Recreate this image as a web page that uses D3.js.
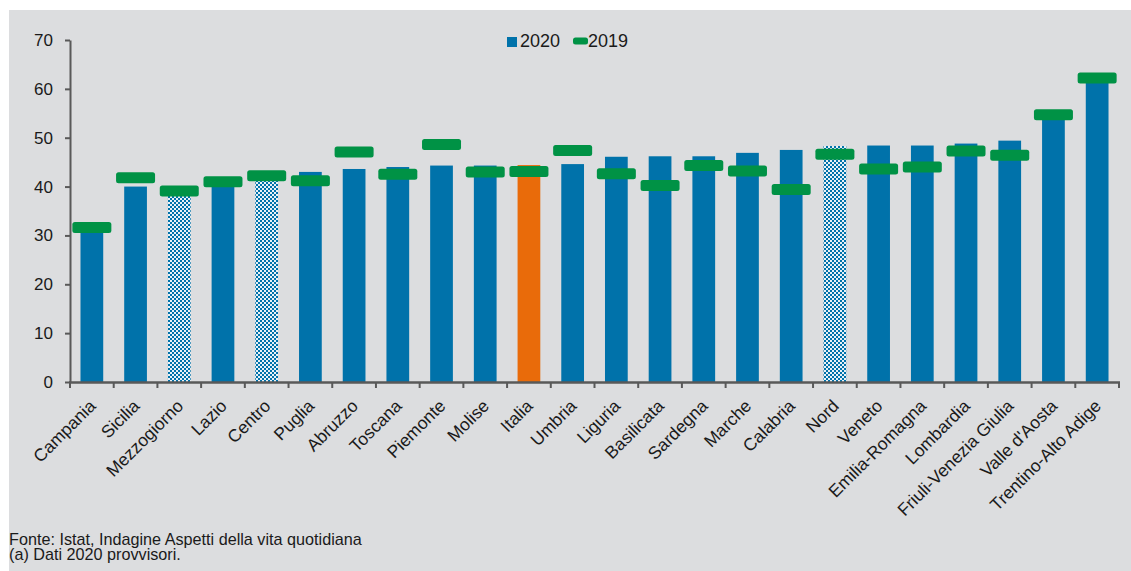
<!DOCTYPE html>
<html lang='it'>
<head>
<meta charset='utf-8'>
<title>Regioni 2020 vs 2019</title>
<script src='https://cdn.jsdelivr.net/npm/d3@7'></script>
<style>
  body { margin: 0; background: #fff; }
  text { font-family: 'Liberation Sans', Arial, sans-serif; fill: #1a1a1a; }
</style>
</head>
<body>
<script>
// data
var regions = ['Campania','Sicilia','Mezzogiorno','Lazio','Centro','Puglia','Abruzzo','Toscana',
  'Piemonte','Molise','Italia','Umbria','Liguria','Basilicata','Sardegna','Marche','Calabria',
  'Nord','Veneto','Emilia-Romagna','Lombardia','Friuli-Venezia Giulia',"Valle d'Aosta",'Trentino-Alto Adige'];
var v2020 = [30.8, 40.0, 38.2, 40.5, 41.3, 43.0, 43.6, 44.0, 44.3, 44.3, 44.4, 44.6, 46.1, 46.2,
  46.2, 46.9, 47.5, 48.3, 48.4, 48.4, 48.8, 49.4, 54.2, 61.5];
var v2019 = [31.6, 41.8, 39.1, 41.0, 42.2, 41.2, 47.1, 42.5, 48.6, 43.0, 43.1, 47.4, 42.6, 40.2,
  44.3, 43.2, 39.4, 46.6, 43.6, 44.0, 47.3, 46.4, 54.7, 62.2];
var areas = ['Mezzogiorno','Centro','Nord'];
var yTicks = [0,10,20,30,40,50,60,70];

var W = 1131, H = 571;
var pLeft = 70, pRight = 1119, pTop = 40, pBottom = 382;

var svg = d3.select('body').append('svg').attr('width', W).attr('height', H);

svg.append('rect').attr('x', 9).attr('y', 10).attr('width', W-9).attr('height', H-10).attr('fill', '#dcdddf');

// checker pattern for the macro areas
var pat = svg.append('defs').append('pattern').attr('id','chk')
  .attr('width', 4).attr('height', 4).attr('patternUnits','userSpaceOnUse');
pat.append('rect').attr('width',4).attr('height',4).attr('fill','#e9f1f7');
pat.append('rect').attr('width',2).attr('height',2).attr('fill','#0072aa');
pat.append('rect').attr('x',2).attr('y',2).attr('width',2).attr('height',2).attr('fill','#0072aa');

var x = d3.scaleBand().domain(regions).range([pLeft, pRight]).paddingInner(0.48).paddingOuter(0.24);
var y = d3.scaleLinear().domain([0,70]).range([pBottom, pTop]);

var data = regions.map(function(r,i){ return {r:r, a:v2020[i], b:v2019[i]}; });

svg.selectAll('rect.bar').data(data).enter().append('rect')
  .attr('class','bar')
  .attr('x', d => x(d.r))
  .attr('width', x.bandwidth())
  .attr('y', d => y(d.a))
  .attr('height', d => y(0) - y(d.a))
  .attr('fill', d => d.r == 'Italia' ? '#e96b0a' : (areas.indexOf(d.r) >= 0 ? 'url(#chk)' : '#0072aa'));

var mw = 39, mh = 11;
svg.selectAll('rect.mk').data(data).enter().append('rect')
  .attr('class','mk')
  .attr('x', d => x(d.r) + x.bandwidth()/2 - mw/2)
  .attr('y', d => y(d.b) - mh/2)
  .attr('width', mw).attr('height', mh).attr('rx', 2.5)
  .attr('fill', '#009245');

// y axis
var ya = svg.append('g').attr('transform','translate('+pLeft+',0)')
  .call(d3.axisLeft(y).tickValues(yTicks).tickSize(5).tickSizeOuter(0).tickPadding(12));
ya.selectAll('path, line').attr('stroke','#595959').attr('stroke-width',2);
ya.selectAll('text').attr('font-size','17px').attr('font-family',"'Liberation Sans', Arial, sans-serif").attr('fill','#1a1a1a');

// x axis: line plus ticks between categories
var xa = svg.append('g');
xa.append('line').attr('x1', pLeft-1).attr('x2', pRight+1).attr('y1', pBottom+0.5).attr('y2', pBottom+0.5)
  .attr('stroke','#595959').attr('stroke-width',2.5);
xa.selectAll('line.t').data(d3.range(regions.length+1)).enter().append('line')
  .attr('x1', i => pLeft + i*x.step()).attr('x2', i => pLeft + i*x.step())
  .attr('y1', pBottom).attr('y2', pBottom+6)
  .attr('stroke','#595959').attr('stroke-width',2);

xa.selectAll('text').data(regions).enter().append('text')
  .attr('transform', d => 'translate('+(x(d)+x.bandwidth()/2+5)+','+(pBottom+25)+') rotate(-45)')
  .attr('text-anchor','end')
  .attr('font-size','17.5px')
  .text(d => d);

// legend
var lg = svg.append('g');
lg.append('rect').attr('x',507).attr('y',37).attr('width',10).attr('height',10).attr('fill','#0072aa');
lg.append('text').attr('x',520).attr('y',47).attr('font-size','18px').text('2020');
lg.append('rect').attr('x',573).attr('y',37.5).attr('width',15).attr('height',7).attr('rx',2.5).attr('fill','#009245');
lg.append('text').attr('x',588).attr('y',47).attr('font-size','18px').text('2019');

// footer
var notes = ['Fonte: Istat, Indagine Aspetti della vita quotidiana', '(a) Dati 2020 provvisori.'];
svg.selectAll('text.note').data(notes).enter().append('text')
  .attr('class','note')
  .attr('x', 9).attr('y', (d,i) => 545 + i*15)
  .attr('font-size','16.2px')
  .style('font-family',"'Liberation Sans Narrow', 'Arial Narrow', sans-serif")
  .style('font-stretch','condensed')
  .text(d => d);
</script>
</body>
</html>
